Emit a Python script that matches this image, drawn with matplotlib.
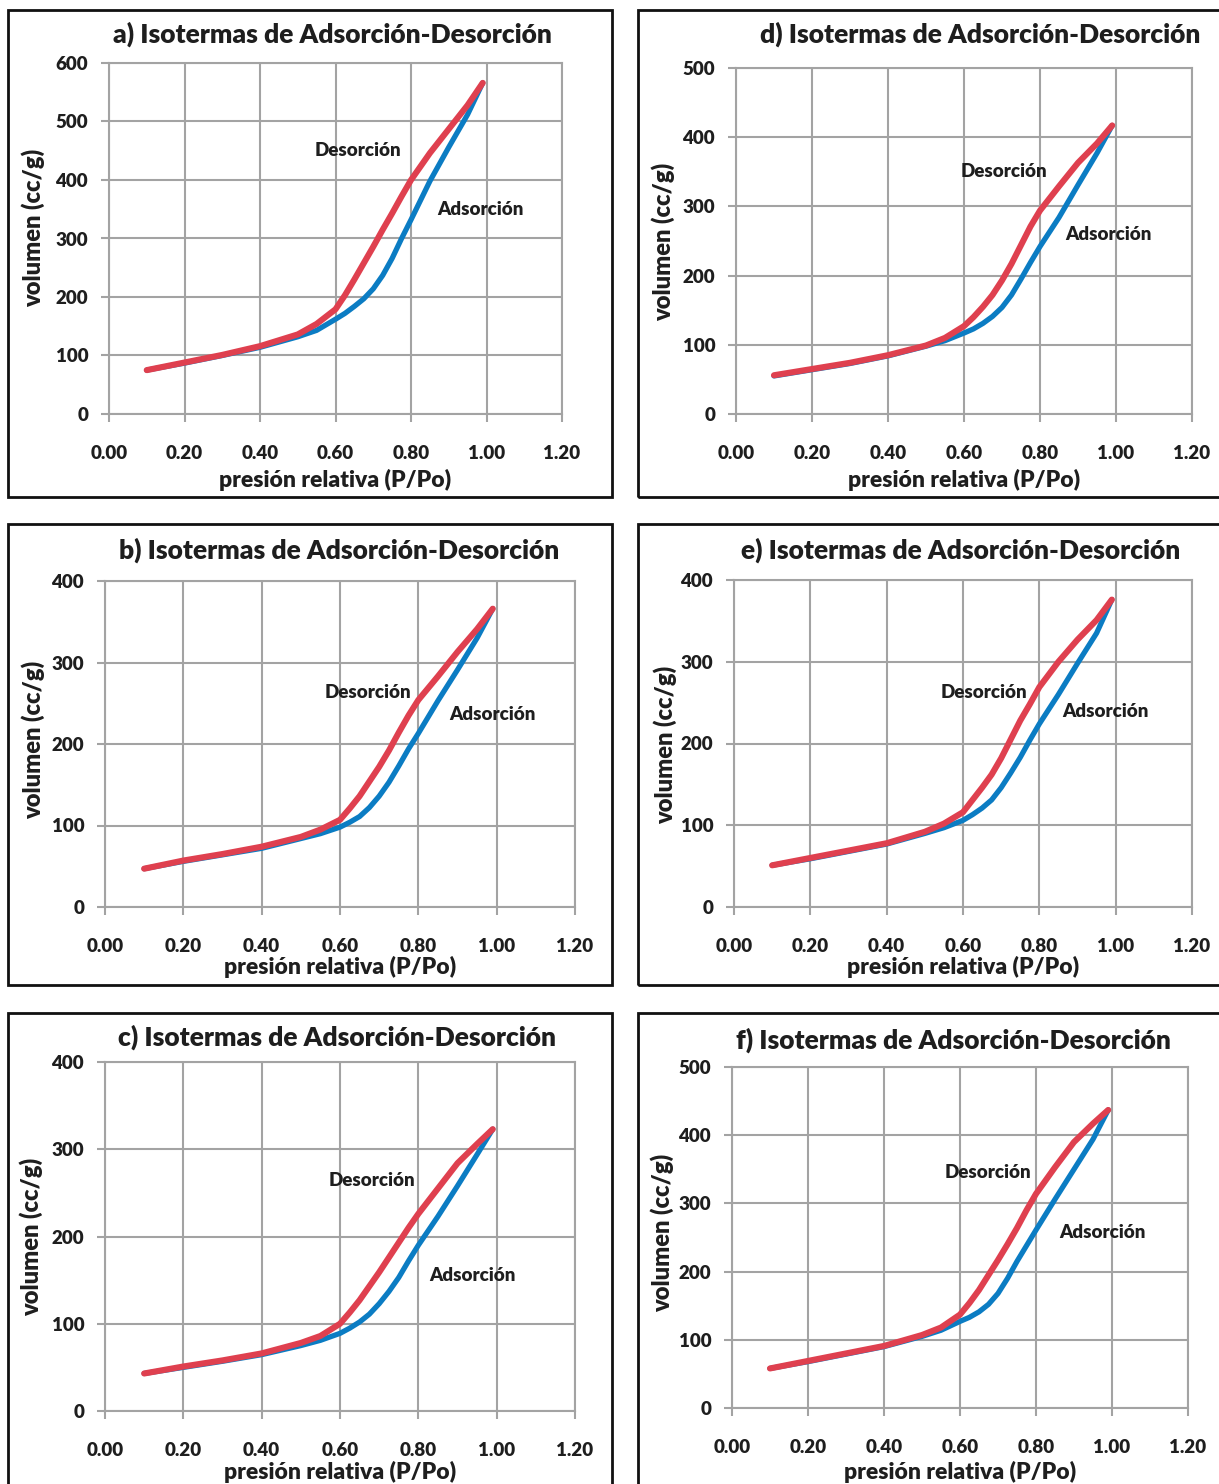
"""Isotermas de adsorción-desorción, seis paneles."""

import matplotlib
matplotlib.use("Agg")
import matplotlib.pyplot as plt
from matplotlib.patches import Rectangle

plt.rcParams["font.family"] = ["Lato", "DejaVu Sans"]
plt.rcParams["font.weight"] = "heavy"

W, H = 1219, 1484

# presión relativa (P/Po) común a todas las series
P = [0.10, 0.20, 0.30, 0.40, 0.50, 0.55, 0.60, 0.625, 0.65, 0.675,
     0.70, 0.725, 0.75, 0.775, 0.80, 0.85, 0.90, 0.95, 0.99]

ads_a = [75, 87, 100, 114, 132, 143, 162, 172, 184, 197, 214, 237, 266, 300, 332, 398, 456, 512, 566]
des_a = [75, 88, 101, 116, 136, 154, 179, 203, 230, 258, 286, 315, 343, 372, 400, 446, 487, 528, 566]
ads_b = [47, 56, 64, 72, 84, 90, 98, 104, 111, 122, 136, 153, 173, 194, 213, 253, 291, 330, 366]
des_b = [47, 57, 65, 74, 86, 95, 107, 121, 136, 154, 172, 192, 214, 235, 254, 283, 313, 341, 366]
ads_c = [43, 50, 57, 64.6, 75, 81, 89, 95, 102, 111, 123, 137, 153, 172, 190, 223, 258, 294, 323]
des_c = [43, 51, 58, 66, 78, 86, 100, 113, 127, 143, 159, 176, 193, 210, 226, 255, 284, 306, 323]
ads_d = [55, 64, 73, 84, 98, 106, 117, 123, 131, 141, 154, 172, 195, 219, 242, 284, 331, 377, 417]
des_d = [56, 65, 74, 85, 99, 110, 127, 140, 155, 172, 193, 217, 244, 271, 294, 329, 363, 391, 417]
ads_e = [51, 59, 68, 77, 90, 97, 106, 113, 121, 131, 146, 164, 183, 204, 224, 260, 298, 335, 376]
des_e = [51, 60, 69, 78, 92, 102, 116, 131, 146, 162, 182, 205, 228, 248, 269, 300, 327, 351, 376]
ads_f = [58, 68, 79, 90, 105, 114, 127, 133, 141, 152, 168, 190, 215, 238, 261, 306, 350, 394, 437]
des_f = [58, 69, 80, 91, 107, 118, 137, 154, 173, 195, 217, 240, 264, 290, 314, 353, 390, 417, 437]

x_ticks = [0.0, 0.2, 0.4, 0.6, 0.8, 1.0, 1.2]

BLUE = "#0B7CC3"
RED = "#DF404F"
GRID = "#A3A3A3"
TXT = "#1E1E1E"

# letra, series, ymax, marco, ejes, título, eje x, eje y (px) y anotaciones (datos)
panels = [
    ("a", ads_a, des_a, 600, (8, 612, 10, 497), (109, 562, 63, 414),
     (332, 34), (335, 480), (33, 228), (0.66, 451), (0.985, 350)),
    ("b", ads_b, des_b, 400, (8, 612, 524, 985), (105, 575, 581, 907),
     (339, 550), (340, 967), (33, 740), (0.671, 263), (0.99, 236)),
    ("c", ads_c, des_c, 400, (8, 612, 1013, 1500), (105, 575, 1062, 1411),
     (337, 1037), (340, 1472), (31, 1237), (0.682, 264), (0.937, 155)),
    ("d", ads_d, des_d, 500, (638, 1230, 10, 497), (736, 1192, 68, 414),
     (980, 34), (964, 480), (663, 242), (0.705, 350), (0.979, 259)),
    ("e", ads_e, des_e, 400, (638, 1230, 524, 985), (734, 1192, 580, 907),
     (961, 550), (963, 967), (665, 745), (0.655, 262), (0.972, 239)),
    ("f", ads_f, des_f, 500, (638, 1230, 1013, 1500), (732, 1188, 1067, 1408),
     (953, 1040), (960, 1472), (662, 1233), (0.674, 346), (0.974, 257)),
]

fig = plt.figure(figsize=(W / 100, H / 100), dpi=100)


def fx(px):
    return px / W


def fy(py):
    return 1 - py / H


for (letter, ads, des, ymax, frame, box, title_xy, xlab_xy, ylab_xy,
     des_pos, ads_pos) in panels:
    l, r, t, b = frame
    fig.patches.append(Rectangle((fx(l), fy(b)), fx(r - l), (b - t) / H, transform=fig.transFigure,
                                 fill=False, edgecolor="#111111", linewidth=2.0, zorder=0))
    al, ar, at, ab = box
    ax = fig.add_axes([fx(al), fy(ab), fx(ar - al), (ab - at) / H])
    ax.plot(P, ads, color=BLUE, linewidth=3.8, solid_capstyle="round",
            solid_joinstyle="round", zorder=3)
    ax.plot(P, des, color=RED, linewidth=4.4, solid_capstyle="round",
            solid_joinstyle="round", zorder=4)
    ax.set_xlim(0, 1.2)
    ax.set_ylim(0, ymax)
    ax.set_xticks(x_ticks)
    ax.set_xticklabels([f"{v:.2f}" for v in x_ticks])
    ax.set_yticks(range(0, ymax + 1, 100))
    ax.grid(True, color=GRID, linewidth=1.5)
    ax.set_axisbelow(True)
    for s in ax.spines.values():
        s.set_color(GRID)
        s.set_linewidth(1.5)
    ax.tick_params(direction="out", length=6, width=1.5, color=GRID, labelcolor=TXT, labelsize=13.5)
    ax.tick_params(axis="x", pad=16)
    ax.tick_params(axis="y", pad=9)
    ax.text(des_pos[0], des_pos[1], "Desorción", ha="center", va="center", fontsize=13.5, color=TXT)
    ax.text(ads_pos[0], ads_pos[1], "Adsorción", ha="center", va="center", fontsize=13.5, color=TXT)

    fig.text(fx(title_xy[0]), fy(title_xy[1]), f"{letter}) Isotermas de Adsorción-Desorción",
             ha="center", va="center", fontsize=19, color=TXT)
    fig.text(fx(xlab_xy[0]), fy(xlab_xy[1]), "presión relativa (P/Po)",
             ha="center", va="center", fontsize=16.5, color=TXT)
    fig.text(fx(ylab_xy[0]), fy(ylab_xy[1]), "volumen (cc/g)", rotation=90,
             ha="center", va="center", fontsize=17, color=TXT)

fig.savefig("out.png", dpi=100)
